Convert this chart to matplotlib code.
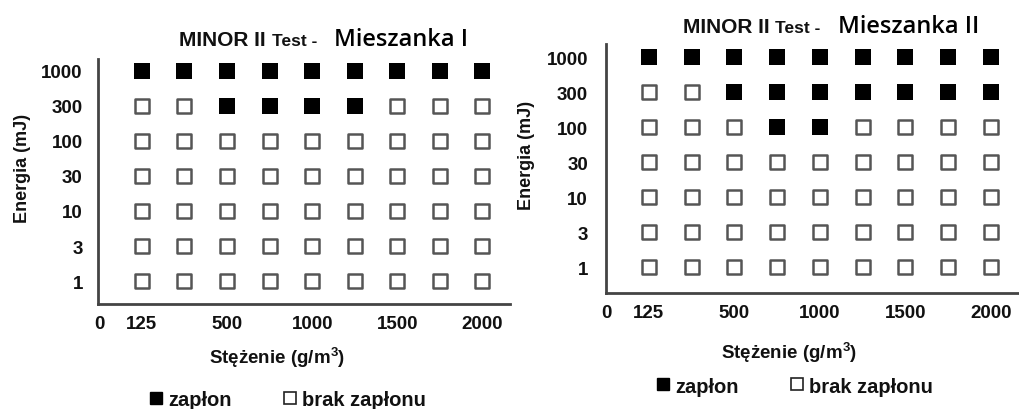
import matplotlib.pyplot as plt
import numpy as np
from matplotlib.lines import Line2D

# concentration columns (g/m3) and energy rows (mJ)
conc = [125, 250, 500, 750, 1000, 1250, 1500, 1750, 2000]
energy = [1, 3, 10, 30, 100, 300, 1000]
xtick_labels = ['0', '125', '500', '1000', '1500', '2000']
xtick_conc = [0, 125, 500, 1000, 1500, 2000]

# ignition result: 1 = zapłon, 0 = brak zapłonu  (rows follow energy list)
mix1 = [
    [0, 0, 0, 0, 0, 0, 0, 0, 0],
    [0, 0, 0, 0, 0, 0, 0, 0, 0],
    [0, 0, 0, 0, 0, 0, 0, 0, 0],
    [0, 0, 0, 0, 0, 0, 0, 0, 0],
    [0, 0, 0, 0, 0, 0, 0, 0, 0],
    [0, 0, 1, 1, 1, 1, 0, 0, 0],
    [1, 1, 1, 1, 1, 1, 1, 1, 1],
]
mix2 = [
    [0, 0, 0, 0, 0, 0, 0, 0, 0],
    [0, 0, 0, 0, 0, 0, 0, 0, 0],
    [0, 0, 0, 0, 0, 0, 0, 0, 0],
    [0, 0, 0, 0, 0, 0, 0, 0, 0],
    [0, 0, 0, 1, 1, 0, 0, 0, 0],
    [0, 0, 1, 1, 1, 1, 1, 1, 1],
    [1, 1, 1, 1, 1, 1, 1, 1, 1],
]

bold = dict(family='Liberation Sans', fontweight='bold', color='#111111')

fig = plt.figure(figsize=(10.19, 4.10), dpi=100)


def panel(rect, grid, xlim, ylim, name, title_xy, ylab_xy, xlab_xy, leg_xy,
          ypad):
    ax = fig.add_axes(rect)
    g = np.array(grid)
    xi = np.arange(len(conc))
    for r in range(len(energy)):
        on = g[r] == 1
        ax.scatter(xi[on], np.full(on.sum(), r), marker='s', s=120,
                   color='black', linewidths=0, zorder=3)
        ax.scatter(xi[~on], np.full((~on).sum(), r), marker='s', s=110,
                   facecolor='white', edgecolor='#555555', linewidths=1.8,
                   zorder=3)
    ax.set_xlim(*xlim)
    ax.set_ylim(*ylim)
    pos = [conc.index(c) if c in conc else -1 for c in xtick_conc]
    ax.set_xticks(pos)
    ax.set_xticklabels(xtick_labels)
    ax.set_yticks(range(len(energy)))
    ax.set_yticklabels([str(e) for e in energy])
    for lab in ax.get_xticklabels() + ax.get_yticklabels():
        lab.set_fontfamily('Liberation Sans')
        lab.set_fontweight('bold')
        lab.set_fontsize(13.5)
        lab.set_color('#111111')
    ax.tick_params(length=0)
    ax.tick_params(axis='x', pad=8)
    ax.tick_params(axis='y', pad=ypad)
    for s in ['top', 'right']:
        ax.spines[s].set_visible(False)
    for s in ['left', 'bottom']:
        ax.spines[s].set_linewidth(2)
        ax.spines[s].set_color('#444444')

    tx, ty = title_xy
    t1 = fig.text(tx, ty, 'MINOR II ', fontsize=15, va='baseline', **bold)
    fig.canvas.draw()
    bb = t1.get_window_extent().transformed(fig.transFigure.inverted())
    t2 = fig.text(bb.x1, ty, 'Test -', fontsize=12.5, va='baseline', **bold)
    fig.canvas.draw()
    bb = t2.get_window_extent().transformed(fig.transFigure.inverted())
    fig.text(bb.x1 + 0.017, ty, name, fontsize=17, va='baseline',
             family='Open Sans', fontweight='semibold', color='black')

    fig.text(*ylab_xy, 'Energia (mJ)', rotation=90, ha='center', va='center',
             fontsize=13, **bold)
    fig.text(*xlab_xy, 'Stężenie (g/m$^\\mathregular{3}$)', ha='center',
             va='center', fontsize=13.5, **bold)

    h1 = Line2D([], [], marker='s', ls='none', color='black', markersize=8.5)
    h2 = Line2D([], [], marker='s', ls='none', markerfacecolor='white',
                markeredgecolor='#222222', markersize=8.5, markeredgewidth=1.2)
    leg = fig.legend([h1, h2], ['zapłon', 'brak zapłonu'], ncol=2,
                     loc='center', bbox_to_anchor=leg_xy, frameon=False,
                     handlelength=0.6, handletextpad=0.3, columnspacing=2.6,
                     prop=dict(family='Liberation Sans', weight='bold',
                               size=14.5))
    for t in leg.get_texts():
        t.set_color('#111111')
    return ax


panel([0.0962, 0.256, 0.404, 0.598], mix1, (-1.03, 8.64), (-0.657, 6.343),
      'Mieszanka I', (0.176, 0.888), (0.022, 0.588), (0.272, 0.127),
      (0.283, 0.022), 11)
panel([0.5947, 0.283, 0.405, 0.607], mix2, (-0.98, 8.65), (-0.74, 6.37),
      'Mieszanka II', (0.670, 0.92), (0.517, 0.62), (0.774, 0.141),
      (0.78, 0.056), 13)

fig.savefig('out.png', dpi=100)
